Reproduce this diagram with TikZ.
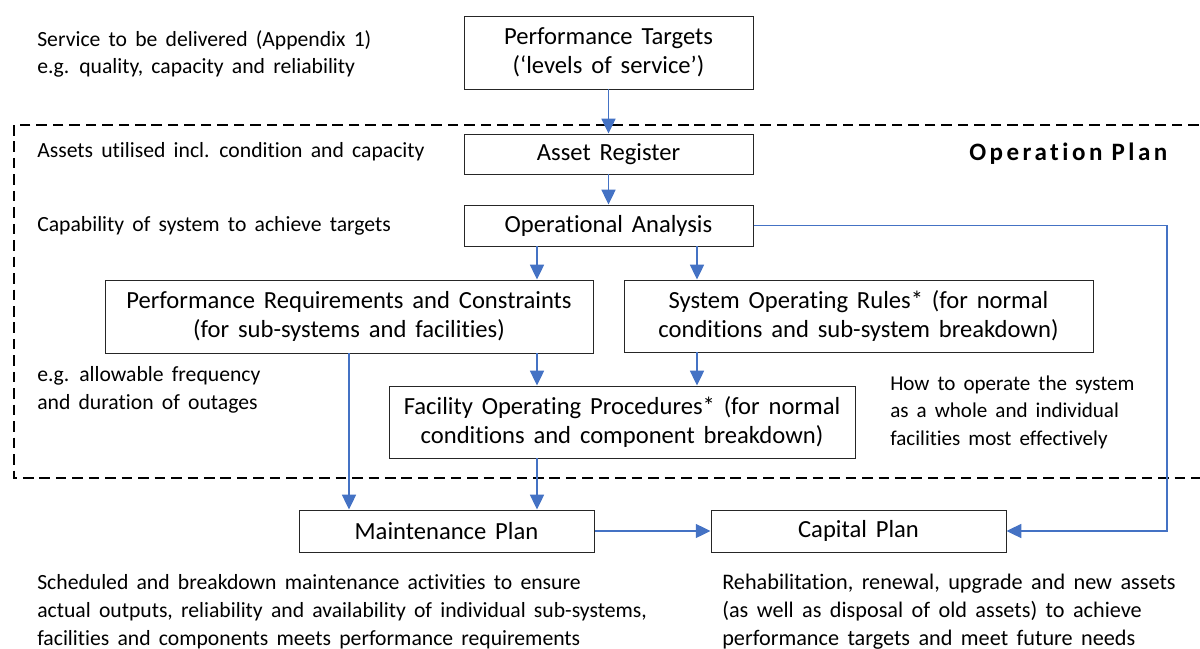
\documentclass[tikz,border=0pt]{standalone}
\usepackage{fontspec}
\setmainfont{Carlito}[Ligatures=CommonOff]
\newfontfamily\headfont[LetterSpace=14,Ligatures=CommonOff]{Carlito}
\usetikzlibrary{arrows.meta,calc}
\newdimen\pxu
\pxu=0.025cm
\newcommand\widespaces[1]{\spaceskip=#1em plus 0.05em\relax}
% trailing gap kept at the end of some first lines
\newcommand\tgap{\hspace{0.4em}}
\begin{document}
\begin{tikzpicture}[x=0.025cm,y=-0.025cm,
  boxfont/.style={font=\fontsize{17.5}{21}\selectfont,
    execute at begin node={\widespaces{0.36}}},
  notefont/.style={font=\fontsize{15.4}{19.8}\selectfont,
    execute at begin node={\widespaces{0.38}}},
  stepbox/.style={draw=black!85,line width=0.7pt,inner sep=0pt,align=center,boxfont},
  note/.style={anchor=west,align=left,inner sep=0pt,notefont},
  flow/.style={draw={rgb,255:red,68;green,114;blue,196},line width=0.9pt,
    -{Triangle[length=10.5pt,width=10pt]}},
  frame/.style={line width=2pt,dash pattern=on 7.5pt off 4.2pt}]
\useasboundingbox (0,0) rectangle (1200,649);

% operation plan frame (right edge runs off the page)
\draw[frame] (1215,125) -- (14,125) -- (14,478) -- (1215,478);

% boxes
\node[stepbox,minimum width=289\pxu,minimum height=73\pxu] (pt) at (608.5,52.5)
  {Performance Targets\tgap\\(‘levels of service’)};
\node[stepbox,minimum width=289\pxu,minimum height=40\pxu] (ar) at (608.5,154) {Asset Register};
\node[stepbox,minimum width=289\pxu,minimum height=41\pxu] (oa) at (608.5,225.5) {Operational Analysis};
\node[stepbox,minimum width=488\pxu,minimum height=73\pxu] (prc) at (349,316.5)
  {Performance Requirements and Constraints\tgap\\(for sub-systems and facilities)};
\node[stepbox,minimum width=469\pxu,minimum height=72\pxu] (sor) at (858.5,316)
  {System Operating Rules* (for normal\tgap\\conditions and sub-system breakdown)};
\node[stepbox,minimum width=466\pxu,minimum height=72\pxu] (fop) at (622,422)
  {Facility Operating Procedures* (for normal\tgap\\conditions and component breakdown)};
\node[stepbox,minimum width=295\pxu,minimum height=42\pxu] (mp) at (446.5,531) {Maintenance Plan};
\node[stepbox,minimum width=295\pxu,minimum height=42\pxu] (cp) at (858.5,531) {Capital Plan};

% notes
\node[note] (n1) at (37,54) {Service to be delivered (Appendix 1)\\e.g. quality, capacity and reliability};
\node[note] (n2) at (37,152) {Assets utilised incl. condition and capacity};
\node[note] (n3) at (37,226) {Capability of system to achieve targets};
\node[note] (n4) at (37,390) {e.g. allowable frequency\\and duration of outages};
\node[note,font=\fontsize{15}{19.6}\selectfont] (n5) at (890,412) {How to operate the system\\as a whole and individual\\facilities most effectively};
\node[note] (n6) at (37,612) {Scheduled and breakdown maintenance activities to ensure\\actual outputs, reliability and availability of individual sub-systems,\\facilities and components meets performance requirements};
\node[note,font=\fontsize{15.8}{19.8}\selectfont] (n7) at (722,612) {Rehabilitation, renewal, upgrade and new assets\\(as well as disposal of old assets) to achieve\\performance targets and meet future needs};
\node[anchor=west,inner sep=0pt] (title) at (969,154)
  {\headfont\bfseries\fontsize{17.8}{20}\selectfont Operation Plan};

% connector columns
\coordinate (xa) at (537,0);
\coordinate (xb) at (697,0);
\coordinate (xc) at (349,0);
\coordinate (xr) at (1167,0);

\draw[flow] (pt) -- (ar);
\draw[flow] (ar) -- (oa);
\draw[flow] (oa.south -| xa) -- (prc.north -| xa);
\draw[flow] (oa.south -| xb) -- (sor.north -| xb);
\draw[flow] (prc.south -| xa) -- (fop.north -| xa);
\draw[flow] (sor.south -| xb) -- (fop.north -| xb);
\draw[flow] (prc.south -| xc) -- (mp.north -| xc);
\draw[flow] (fop.south -| xa) -- (mp.north -| xa);
\draw[flow] (mp) -- (cp);
\draw[flow] (oa.east) -- (oa.east -| xr) -- (cp.east -| xr) -- (cp.east);
\end{tikzpicture}
\end{document}
